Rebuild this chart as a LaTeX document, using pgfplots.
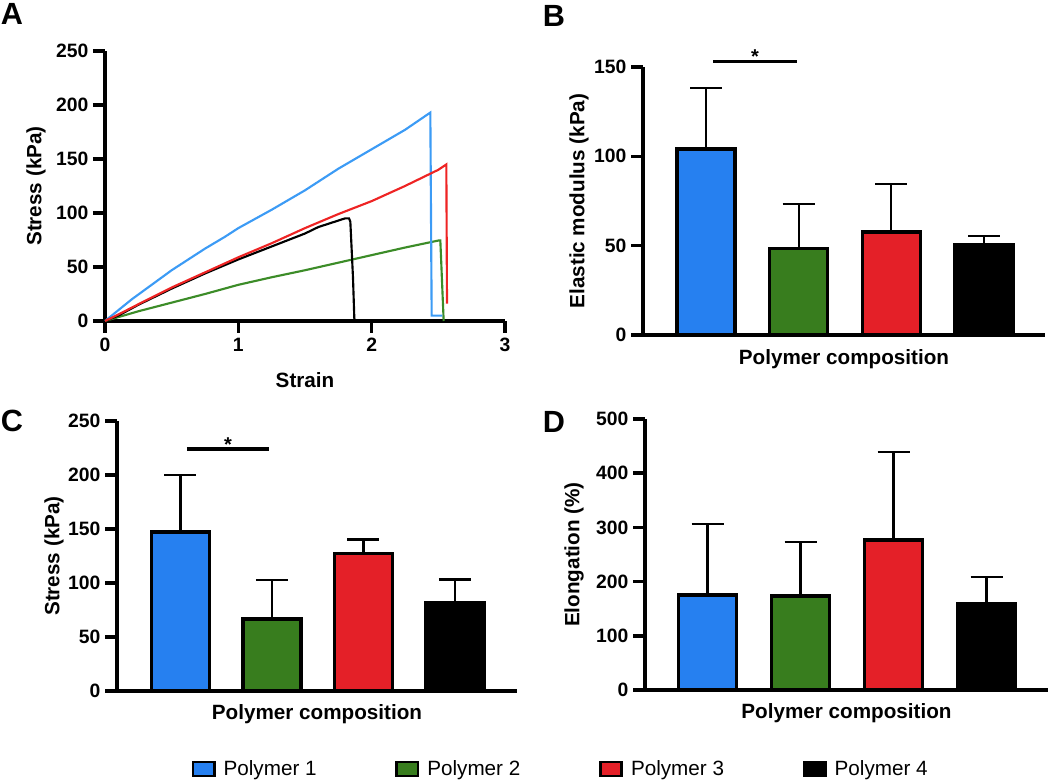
\documentclass[border=0pt]{standalone}
\usepackage{fontspec}
\setmainfont{Liberation Sans}
\usepackage{pgfplots}
\pgfplotsset{compat=1.18}

\definecolor{cblue}{RGB}{38,128,240}
\definecolor{cgreen}{RGB}{56,125,30}
\definecolor{cred}{RGB}{228,32,40}
\definecolor{lblue}{RGB}{60,155,245}
\definecolor{lred}{RGB}{238,36,36}
\definecolor{lgreen}{RGB}{60,140,40}

\pgfplotsset{
 panel/.style={scale only axis, axis lines=left, axis line style={line width=2.6pt,-},
   enlargelimits=false, clip=false, tick style={line width=2.6pt, black},
   major tick length=9pt, tick align=outside,
   /pgf/number format/assume math mode=true,
   tick label style={font=\fontsize{14.5}{16}\selectfont\bfseries},
   label style={font=\fontsize{15.5}{18}\selectfont\bfseries},
   anchor=south west},
 barpanel/.style={panel, xtick=\empty},
 barst/.style={ybar, bar shift=0pt, bar width=43.5pt, draw=black, line width=2.6pt, forget plot},
 errb/.style={error bars/.cd, y dir=plus, y explicit,
   error bar style={line width=1.6pt, black},
   error mark options={rotate=90, mark size=12pt, line width=1.6pt, black}},
 sig/.style={black, line width=2.6pt, no marks, forget plot},
}

\begin{document}
\begin{tikzpicture}
\path[use as bounding box] (0,0) rectangle (787.5pt,587.25pt);

% ---------------- A ----------------
\begin{axis}[panel, at={(78.75pt,346.5pt)}, width=300pt, height=202.5pt,
  xmin=0, xmax=3, ymin=0, ymax=250,
  xtick={0,1,2,3}, ytick={0,50,100,150,200,250},
  xlabel={Strain}, ylabel={Stress (kPa)},
  xlabel style={at={(axis description cs:0.5,-0.2185)}, anchor=center},
  ylabel style={at={(axis description cs:-0.1725,0.5)}, anchor=center}]
\addplot[lgreen, line width=1.6pt, no marks] coordinates {
 (0,0) (0.25,9) (0.5,17) (0.75,25) (1,33.5) (1.25,40.5) (1.5,47) (1.75,54)
 (2,61) (2.25,68) (2.5,74.5) (2.515,74.5) (2.54,0)};
\addplot[lblue, line width=1.6pt, no marks] coordinates {
 (0,0) (0.05,5) (0.1,10) (0.2,20) (0.3,29) (0.4,38) (0.5,47) (0.6,55)
 (0.75,67) (0.9,78) (1,86) (1.25,103) (1.5,121) (1.75,141) (2,159)
 (2.25,177) (2.44,193) (2.45,5) (2.53,5)};
\addplot[black, line width=1.6pt, no marks] coordinates {
 (0,0) (0.1,5) (0.25,15) (0.5,30) (0.75,44) (1,57) (1.25,69) (1.5,81)
 (1.6,87) (1.7,91) (1.8,95) (1.83,95) (1.84,92) (1.86,40) (1.87,2)
 (1.88,0) (2.0,0)};
\addplot[lred, line width=1.6pt, no marks] coordinates {
 (0,0) (0.1,6) (0.25,15.5) (0.5,31) (0.75,45) (1,59) (1.25,72) (1.5,86)
 (1.75,99) (2,111) (2.25,125) (2.5,140) (2.56,145) (2.565,16)};
\end{axis}

% ---------------- B ----------------
\begin{axis}[barpanel, at={(482.25pt,336pt)}, width=301.5pt, height=201pt,
  xmin=-0.68, xmax=3.658, ymin=0, ymax=150, ytick={0,50,100,150},
  xlabel={Polymer composition}, ylabel={Elastic modulus (kPa)},
  xlabel style={at={(axis description cs:0.5,-0.0896)}, anchor=center},
  ylabel style={at={(axis description cs:-0.159,0.5)}, anchor=center}]
\addplot[barst, fill=cblue, errb] coordinates {(0,104) +- (0,34.4)};
\addplot[barst, fill=cgreen, errb] coordinates {(1,48.5) +- (0,24.9)};
\addplot[barst, fill=cred, errb] coordinates {(2,57.6) +- (0,26.8)};
\addplot[barst, fill=black, errb] coordinates {(3,50.7) +- (0,4.6)};
\addplot[sig] coordinates {(0.076,153) (0.98,153)};
\node[font=\fontsize{15}{15}\selectfont\bfseries, yshift=-3pt] at (axis cs:0.53,158) {*};
\end{axis}

% ---------------- C ----------------
\begin{axis}[barpanel, at={(87.75pt,69pt)}, width=300pt, height=202.5pt,
  xmin=-0.694, xmax=3.678, ymin=0, ymax=250, ytick={0,50,100,150,200,250},
  xlabel={Polymer composition}, ylabel={Stress (kPa)},
  xlabel style={at={(axis description cs:0.5,-0.085)}, anchor=center},
  ylabel style={at={(axis description cs:-0.1575,0.5)}, anchor=center},
  legend image code/.code={\draw[#1, draw=black, line width=2pt] (0pt,-5.3pt) rectangle (16pt,5.3pt);},
  legend style={at={(axis description cs:1.11,-0.289)}, anchor=center, draw=none, fill=none,
    legend columns=4, font=\fontsize{15.5}{18}\selectfont,
    /tikz/every odd column/.append style={column sep=4pt},
    /tikz/every even column/.append style={column sep=57pt}}]
\addplot[barst, fill=cblue, errb] coordinates {(0,147.3) +- (0,53.1)};
\addplot[barst, fill=cgreen, errb] coordinates {(1,66.6) +- (0,36.1)};
\addplot[barst, fill=cred, errb] coordinates {(2,127.4) +- (0,12.9)};
\addplot[barst, fill=black, errb] coordinates {(3,81.7) +- (0,21.6)};
\addplot[sig] coordinates {(0.071,224) (0.967,224)};
\node[font=\fontsize{15}{15}\selectfont\bfseries, yshift=-3pt] at (axis cs:0.52,232) {*};
\addlegendimage{fill=cblue}
\addlegendentry{Polymer 1}
\addlegendimage{fill=cgreen}
\addlegendentry{Polymer 2}
\addlegendimage{fill=cred}
\addlegendentry{Polymer 3}
\addlegendimage{fill=black}
\addlegendentry{Polymer 4}
\end{axis}

% ---------------- D ----------------
\begin{axis}[barpanel, at={(483.75pt,69.75pt)}, width=302.25pt, height=203.25pt,
  xmin=-0.672, xmax=3.661, ymin=0, ymax=500, ytick={0,100,200,300,400,500},
  xlabel={Polymer composition}, ylabel={Elongation (\%)},
  xlabel style={at={(axis description cs:0.5,-0.085)}, anchor=center},
  ylabel style={at={(axis description cs:-0.176,0.5)}, anchor=center}]
\addplot[barst, fill=cblue, errb] coordinates {(0,175.5) +- (0,130.5)};
\addplot[barst, fill=cgreen, errb] coordinates {(1,173.7) +- (0,99.7)};
\addplot[barst, fill=cred, errb] coordinates {(2,277) +- (0,161.4)};
\addplot[barst, fill=black, errb] coordinates {(3,159) +- (0,50)};
\end{axis}

\node[font=\fontsize{23}{23}\selectfont\bfseries] at (9pt,576.75pt) {A};
\node[font=\fontsize{23}{23}\selectfont\bfseries] at (415.5pt,575.25pt) {B};
\node[font=\fontsize{23}{23}\selectfont\bfseries] at (9pt,271.5pt) {C};
\node[font=\fontsize{23}{23}\selectfont\bfseries] at (415.5pt,270.75pt) {D};
\end{tikzpicture}
\end{document}
